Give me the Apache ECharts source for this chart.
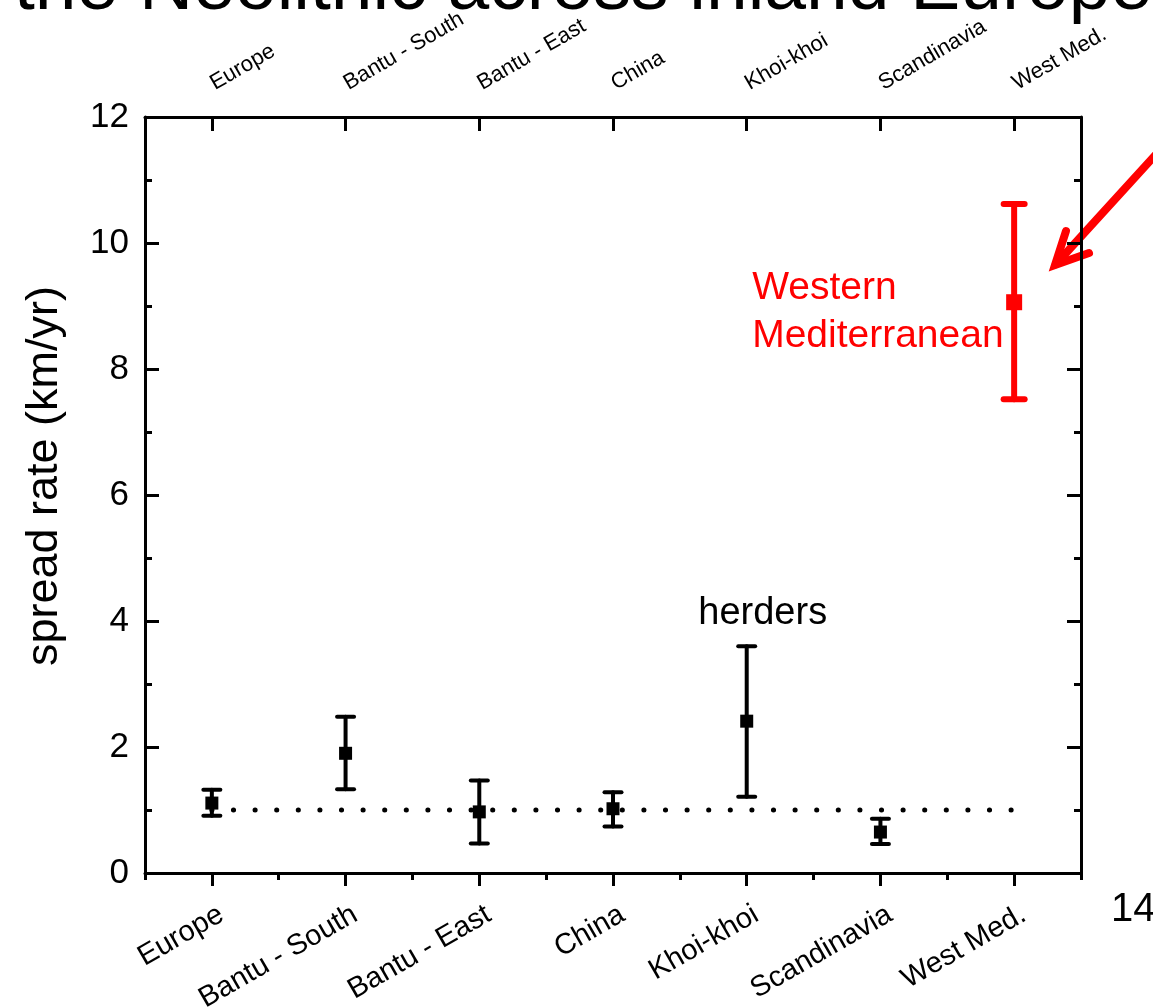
<!DOCTYPE html>
<html>
<head>
<meta charset="utf-8">
<title>Spread rate of the Neolithic</title>
<script src="https://cdn.jsdelivr.net/npm/echarts@6/dist/echarts.min.js"></script>
<style>
  html, body { margin: 0; padding: 0; background: #fff; }
  #chart { width: 1153px; height: 1007px; }
</style>
</head>
<body>
<div id="chart"></div>
<script>
// Regions compared, spread rate (km/yr) with lower / upper bounds
const regions = ['Europe', 'Bantu - South', 'Bantu - East', 'China', 'Khoi-khoi', 'Scandinavia', 'West Med.'];
const rate  = [1.11, 1.90, 0.97, 1.02, 2.41, 0.65, 9.06];
const lower = [0.91, 1.33, 0.47, 0.74, 1.21, 0.46, 7.52];
const upper = [1.32, 2.48, 1.47, 1.28, 3.60, 0.86, 10.62];
// reference level drawn as a dotted line
const referenceRate = [1, 1, 1, 1, 1, 1, 1];
// region drawn in red
const highlighted = 'West Med.';
// text notes: region, value the note hangs from, text
const notes = [
  ['Khoi-khoi', 3.60, 'herders'],
  ['West Med.', 9.06, 'Western\nMediterranean']
];
const yTicks = [0, 2, 4, 6, 8, 10, 12];

const FONT = '"Liberation Sans", Arial, Helvetica, sans-serif';
const RED = '#ff0000';
const INK = '#000000';

const chart = echarts.init(document.getElementById('chart'), null, { renderer: 'canvas' });

const isRed = i => regions[i] === highlighted;

const axisLine = { show: true, onZero: false, lineStyle: { color: INK, width: 3 } };

const option = {
  backgroundColor: '#ffffff',
  animation: false,
  grid: { left: 145, right: 72, top: 117, bottom: 134, containLabel: false, outerBoundsMode: 'none' },
  xAxis: [
    { // bottom: labels and major ticks
      type: 'category', data: regions, position: 'bottom', boundaryGap: true,
      axisLine: axisLine,
      axisTick: { show: true, alignWithLabel: true, length: 13, inside: false, lineStyle: { color: INK, width: 3 } },
      axisLabel: { show: true, rotate: 30, margin: 45, padding: [0, -11, 0, 0], color: INK, fontFamily: FONT, fontSize: 29, interval: 0 },
      splitLine: { show: false }
    },
    { // bottom: short ticks between regions
      type: 'category', data: regions, position: 'bottom', boundaryGap: true, offset: 0,
      axisLine: { show: false },
      axisTick: { show: true, alignWithLabel: false, length: 7, inside: false, lineStyle: { color: INK, width: 3 } },
      axisLabel: { show: false }, splitLine: { show: false }
    },
    { // top: labels and major ticks
      type: 'category', data: regions, position: 'top', boundaryGap: true,
      axisLine: axisLine,
      axisTick: { show: true, alignWithLabel: true, length: 14, inside: true, lineStyle: { color: INK, width: 3 } },
      axisLabel: { show: true, rotate: -30, margin: 32, color: INK, fontFamily: FONT, fontSize: 22, interval: 0 },
      splitLine: { show: false }
    },
    { // top: short ticks between regions
      type: 'category', data: regions, position: 'top', boundaryGap: true, offset: 0,
      axisLine: { show: false },
      axisTick: { show: true, alignWithLabel: false, length: 7, inside: true, lineStyle: { color: INK, width: 3 } },
      axisLabel: { show: false }, splitLine: { show: false }
    }
  ],
  yAxis: [
    {
      type: 'value', position: 'left', min: yTicks[0], max: yTicks[yTicks.length - 1], interval: 2,
      name: 'spread rate (km/yr)', nameLocation: 'middle', nameGap: 78,
      nameTextStyle: { color: INK, fontFamily: FONT, fontSize: 45, padding: [0, 0, 0, 38] },
      axisLine: axisLine,
      axisTick: { show: true, inside: true, length: 14, lineStyle: { color: INK, width: 3 } },
      minorTick: { show: true, splitNumber: 2, length: 7, lineStyle: { color: INK, width: 3 } },
      axisLabel: { show: true, margin: 16, color: INK, fontFamily: FONT, fontSize: 35 },
      splitLine: { show: false }
    },
    {
      type: 'value', position: 'right', min: yTicks[0], max: yTicks[yTicks.length - 1], interval: 2,
      axisLine: axisLine,
      axisTick: { show: true, inside: true, length: 14, lineStyle: { color: INK, width: 3 } },
      minorTick: { show: true, splitNumber: 2, length: 7, lineStyle: { color: INK, width: 3 } },
      axisLabel: { show: false },
      splitLine: { show: false }
    }
  ],
  series: [
    { // dotted reference level
      type: 'line', xAxisIndex: 0, yAxisIndex: 0, z: 1,
      data: referenceRate, symbol: 'none', silent: true,
      lineStyle: { color: INK, width: 5, type: [0.1, 21.5], cap: 'round' }
    },
    { // error bars
      type: 'custom', xAxisIndex: 0, yAxisIndex: 0, z: 2,
      data: regions.map((r, i) => [i, lower[i], upper[i]]),
      encode: { x: 0, y: [1, 2] },
      renderItem: function (params, api) {
        const i = api.value(0);
        const lo = api.coord([i, api.value(1)]);
        const hi = api.coord([i, api.value(2)]);
        const red = isRed(i);
        const half = red ? 10.5 : 8.5;
        const style = { stroke: red ? RED : INK, lineWidth: red ? 6 : 4, lineCap: 'round' };
        return {
          type: 'group',
          children: [
            { type: 'line', shape: { x1: lo[0], y1: lo[1], x2: hi[0], y2: hi[1] }, style: style },
            { type: 'line', shape: { x1: hi[0] - half, y1: hi[1], x2: hi[0] + half, y2: hi[1] }, style: style },
            { type: 'line', shape: { x1: lo[0] - half, y1: lo[1], x2: lo[0] + half, y2: lo[1] }, style: style }
          ]
        };
      }
    },
    { // central values
      type: 'scatter', xAxisIndex: 0, yAxisIndex: 0, z: 3,
      data: rate.map((v, i) => ({
        value: [i, v],
        symbolSize: isRed(i) ? 16 : 13,
        itemStyle: { color: isRed(i) ? RED : INK, opacity: 1 }
      })),
      symbol: 'rect'
    },
    { // notes beside the bars
      type: 'custom', xAxisIndex: 0, yAxisIndex: 0, z: 4, silent: true,
      data: notes.map(n => [regions.indexOf(n[0]), n[1]]),
      renderItem: function (params, api) {
        const idx = params.dataIndex;
        const i = api.value(0);
        const p = api.coord([i, api.value(1)]);
        const red = isRed(i);
        if (red) {
          return {
            type: 'text',
            style: {
              text: notes[idx][2], x: p[0] - 262, y: p[1] + 10,
              fill: RED, font: '39px ' + FONT, lineHeight: 48,
              align: 'left', verticalAlign: 'middle'
            }
          };
        }
        return {
          type: 'text',
          style: {
            text: notes[idx][2], x: p[0] + 16, y: p[1] - 33,
            fill: INK, font: '38px ' + FONT,
            align: 'center', verticalAlign: 'middle'
          }
        };
      }
    }
  ],
  graphic: [
    { // slide heading, mostly above the visible area
      type: 'text', x: 14, y: -12, z: 10, silent: true,
      style: { text: 'the Neolithic across inland Europe', fill: INK, font: '75px ' + FONT, align: 'left', verticalAlign: 'middle' }
    },
    { // page number
      type: 'text', x: 1111, y: 910, z: 10, silent: true,
      style: { text: '14', fill: INK, font: '40px ' + FONT, align: 'left', verticalAlign: 'middle' }
    },
    { // pointer arrow
      type: 'group', z: 10, silent: true,
      children: [
        { type: 'polyline', shape: { points: [[1200, 106], [1056, 264]] }, style: { stroke: RED, lineWidth: 8, lineCap: 'round', fill: null } },
        { type: 'polyline', shape: { points: [[1066, 231], [1055, 265], [1089, 253]] }, style: { stroke: RED, lineWidth: 8, lineCap: 'round', lineJoin: 'miter', fill: null } }
      ]
    }
  ]
};

chart.setOption(option);
</script>
</body>
</html>
